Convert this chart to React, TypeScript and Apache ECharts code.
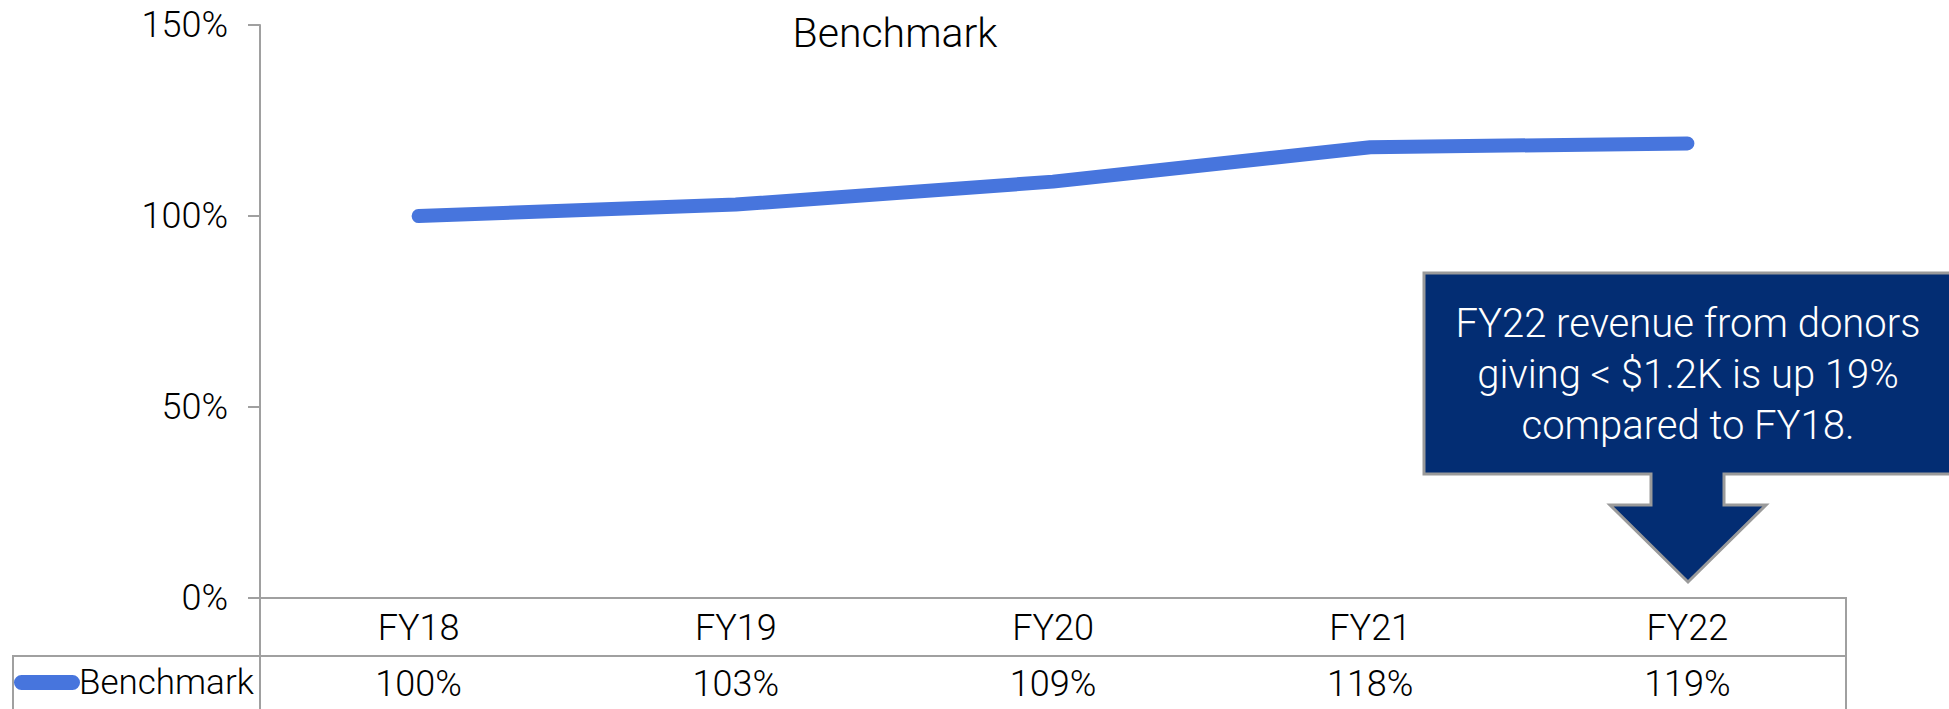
import React, { useEffect, useRef } from "react";
import * as echarts from "echarts";

const categories = ["FY18", "FY19", "FY20", "FY21", "FY22"];
const benchmark = [100, 103, 109, 118, 119];
const seriesName = "Benchmark";
const chartTitle = "Benchmark";
const calloutLines = [
  "FY22 revenue from donors",
  "giving < $1.2K is up 19%",
  "compared to FY18.",
];

export default function App() {
  const ref = useRef<HTMLDivElement>(null);
  useEffect(() => {
    const chart = echarts.init(ref.current!, null, { renderer: "svg" });
    const grey = "#a0a0a0";
    const blue = "#4775dd";
    const font = "Roboto, 'Noto Sans', sans-serif";
    const weight = 300;
    const labelStyle = { fontSize: 36, color: "#000", fontFamily: font, fontWeight: weight };
    chart.setOption({
      animation: false,
      grid: { left: 260, right: 103, top: 25, bottom: 111, containLabel: false },
      xAxis: [
        {
          type: "category",
          data: categories,
          boundaryGap: true,
          axisLine: { show: true, lineStyle: { color: grey, width: 2 } },
          axisTick: { show: false },
          axisLabel: { ...labelStyle, margin: 12 },
        },
        {
          type: "category",
          data: benchmark.map((v) => v + "%"),
          position: "bottom",
          offset: 58,
          boundaryGap: true,
          axisLine: { show: false },
          axisTick: { show: false },
          axisLabel: { ...labelStyle, margin: 10 },
        },
      ],
      yAxis: {
        type: "value",
        min: 0,
        max: 150,
        interval: 50,
        axisLine: { show: true, lineStyle: { color: grey, width: 2 } },
        axisTick: { show: true, length: 12, lineStyle: { color: grey, width: 2 } },
        splitLine: { show: false },
        axisLabel: { ...labelStyle, margin: 32, formatter: "{value}%" },
      },
      series: [
        {
          name: seriesName,
          type: "line",
          data: benchmark,
          showSymbol: false,
          symbol: "none",
          lineStyle: { color: blue, width: 14, cap: "round", join: "round" },
          itemStyle: { color: blue },
        },
      ],
      graphic: [
        {
          type: "text",
          x: 895,
          y: 33,
          style: {
            text: chartTitle,
            fontSize: 41,
            fontFamily: font,
            fontWeight: weight,
            fill: "#000",
            textAlign: "center",
            textVerticalAlign: "middle",
          },
        },
        { type: "line", shape: { x1: 260, y1: 598, x2: 260, y2: 712 }, style: { stroke: grey, lineWidth: 2 } },
        { type: "line", shape: { x1: 13, y1: 656, x2: 1846, y2: 656 }, style: { stroke: grey, lineWidth: 2 } },
        { type: "line", shape: { x1: 13, y1: 655, x2: 13, y2: 712 }, style: { stroke: grey, lineWidth: 2 } },
        { type: "line", shape: { x1: 1846, y1: 597, x2: 1846, y2: 712 }, style: { stroke: grey, lineWidth: 2 } },
        {
          type: "rect",
          shape: { x: 14, y: 675, width: 66, height: 15, r: 7.5 },
          style: { fill: blue },
        },
        {
          type: "text",
          x: 79,
          y: 682,
          style: {
            text: seriesName,
            fontSize: 35,
            fontFamily: font,
            fontWeight: weight,
            fill: "#000",
            textAlign: "left",
            textVerticalAlign: "middle",
          },
        },
        {
          type: "polygon",
          shape: {
            points: [
              [1424, 273],
              [1960, 273],
              [1960, 474],
              [1724, 474],
              [1724, 505],
              [1766, 505],
              [1688, 582],
              [1610, 505],
              [1651, 505],
              [1651, 474],
              [1424, 474],
            ],
          },
          style: { fill: "#032d73", stroke: "#9a9a9a", lineWidth: 3 },
          z: 10,
        },
        {
          type: "text",
          x: 1688,
          y: 374,
          z: 11,
          style: {
            text: calloutLines.join("\n"),
            fontSize: 40,
            lineHeight: 51,
            fontFamily: font,
            fontWeight: weight,
            fill: "#fff",
            textAlign: "center",
            textVerticalAlign: "middle",
          },
        },
      ],
    });
    return () => chart.dispose();
  }, []);
  return (
    <div
      ref={ref}
      style={{ position: "fixed", left: 0, top: 0, width: 1949, height: 709, background: "#fff" }}
    />
  );
}
